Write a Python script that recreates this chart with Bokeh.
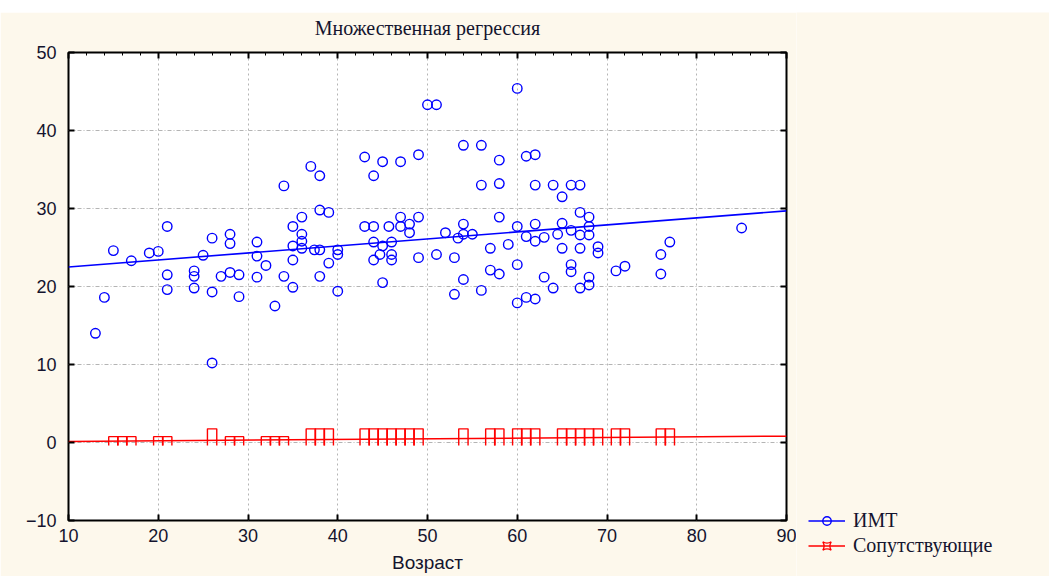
from bokeh.plotting import figure
from bokeh.models import Range1d, FixedTicker, LinearAxis, Legend, LegendItem, Div
from bokeh.layouts import column, row
from bokeh.embed import file_html
from bokeh.resources import INLINE

# ---------------- data ----------------
imt_age = [37, 34, 21, 36, 35, 36, 35, 36, 36, 26, 28, 28, 31, 15, 19, 20, 17, 25, 31, 32, 35,
           21, 24, 24, 27, 28, 29, 31, 34, 21, 24, 26, 29, 35, 14, 33, 13, 26,
           60, 50, 51, 54, 56, 43, 45, 47, 49, 58, 61, 62, 38, 44, 56, 58, 62, 38, 39,
           43, 44, 47, 49, 45.7, 47, 48, 48, 54, 58, 60, 62, 52, 54, 55, 37.4, 38, 40, 40,
           39, 44, 45, 46, 44.7, 46, 44, 46, 49, 51, 53, 53.4, 57, 59, 61, 62, 60, 38, 40,
           45, 57, 58, 54, 56, 53, 60, 61, 62,
           64, 66, 67, 65, 67, 68, 65, 66, 68, 68, 67, 63, 65, 67, 69, 69, 77, 76, 76, 85,
           66, 66, 63, 68, 71, 72, 64, 67, 68, 64.5]
imt_val = [35.4, 32.9, 27.7, 28.9, 27.7, 26.7, 25.2, 25.8, 24.9, 26.2, 26.7, 25.5, 25.7, 24.6,
           24.3, 24.5, 23.3, 24.0, 23.9, 22.7, 23.4,
           21.5, 22.0, 21.3, 21.3, 21.8, 21.5, 21.2, 21.3, 19.6, 19.8, 19.3, 18.7, 19.9, 18.6,
           17.5, 14.0, 10.2,
           45.4, 43.3, 43.3, 38.1, 38.1, 36.6, 36.0, 36.0, 36.9, 36.2, 36.7, 36.9, 34.2, 34.2,
           33.0, 33.2, 33.0, 29.8, 29.5,
           27.7, 27.7, 28.9, 28.9, 27.7, 27.7, 28.0, 26.9, 28.0, 28.9, 27.7, 28.0, 26.9, 26.7,
           26.7, 24.7, 24.7, 24.7, 24.1,
           23.0, 25.7, 25.2, 25.7, 24.1, 24.1, 23.4, 23.4, 23.7, 24.1, 23.7, 26.2, 24.9, 25.4,
           26.4, 25.8, 22.8, 21.3, 19.4,
           20.5, 22.1, 21.6, 20.9, 19.5, 19.0, 17.9, 18.6, 18.4,
           33.0, 33.0, 33.0, 31.5, 29.5, 28.9, 28.1, 27.2, 27.7, 26.6, 26.6, 26.3, 24.9, 24.9,
           25.1, 24.3, 25.7, 24.1, 21.6, 27.5,
           22.8, 21.9, 21.2, 21.2, 22.0, 22.6, 19.8, 19.8, 20.2, 26.7]

comorb_age = [15, 16, 17, 20, 21, 26, 28, 29, 32, 33, 34, 37, 38, 39, 43, 44, 45, 46, 47, 48, 49,
              54, 57, 58, 60, 61, 62, 65, 66, 67, 68, 69, 71, 72, 76, 77]
comorb_val = [0, 0, 0, 0, 0, 1, 0, 0, 0, 0, 0, 1, 1, 1, 1, 1, 1, 1, 1, 1, 1,
              1, 1, 1, 1, 1, 1, 1, 1, 1, 1, 1, 1, 1, 1, 1]

imt_fit = {"intercept": 21.6, "slope": 0.09}
comorb_fit = {"intercept": 0.05, "slope": 0.0085}

x_ticks = [10, 20, 30, 40, 50, 60, 70, 80, 90]
y_ticks = [-10, 0, 10, 20, 30, 40, 50]

title_text = "Множественная регрессия"
x_label = "Возраст"
legend_labels = ["ИМТ", "Сопутствующие"]

# ---------------- styles ----------------
CREAM = "#FDF8EC"
BLUE = "#0000FF"
RED = "#FF0000"
TEXT = "#14142E"
MAIN_W = 796
H = 564

p = figure(width=MAIN_W, height=H,
           x_range=Range1d(x_ticks[0], x_ticks[-1]),
           y_range=Range1d(y_ticks[0], y_ticks[-1]),
           output_backend="svg", toolbar_location=None,
           min_border_left=68, min_border_right=10,
           min_border_top=40, min_border_bottom=56,
           background_fill_color="white", border_fill_color=CREAM,
           outline_line_color="black", outline_line_width=2)
p.title.visible = False

# axes
for ax in (p.xaxis[0], p.yaxis[0]):
    ax.axis_line_alpha = 0
    ax.major_tick_in = 6
    ax.major_tick_out = 0
    ax.minor_tick_in = 0
    ax.minor_tick_out = 0
    ax.major_tick_line_color = "black"
    ax.major_tick_line_width = 2
    ax.major_label_text_font = "Liberation Sans"
    ax.major_label_text_font_size = "18px"
    ax.major_label_text_color = TEXT
p.xaxis[0].ticker = FixedTicker(ticks=x_ticks)
p.yaxis[0].ticker = FixedTicker(ticks=y_ticks)
p.xaxis[0].major_label_standoff = 8
p.yaxis[0].major_label_standoff = 12
p.xaxis[0].axis_label = x_label
p.xaxis[0].axis_label_text_font = "Liberation Sans"
p.xaxis[0].axis_label_text_font_size = "19px"
p.xaxis[0].axis_label_text_font_style = "normal"
p.xaxis[0].axis_label_text_color = TEXT
p.xaxis[0].axis_label_standoff = 7

# top axis: minor ticks inside, carries the chart title as its label
minor_x = list(range(x_ticks[0], x_ticks[-1] + 1, 2))
top = LinearAxis(ticker=FixedTicker(ticks=x_ticks, minor_ticks=minor_x),
                 axis_line_alpha=0, major_tick_in=6, major_tick_out=0,
                 minor_tick_in=3, minor_tick_out=0, major_tick_line_width=2,
                 major_label_text_alpha=0, major_label_text_font_size="1px",
                 major_label_standoff=0,
                 axis_label=title_text, axis_label_text_font="Liberation Serif",
                 axis_label_text_font_size="20px", axis_label_text_font_style="normal",
                 axis_label_text_color=TEXT, axis_label_standoff=14)
p.add_layout(top, "above")
right = LinearAxis(ticker=FixedTicker(ticks=y_ticks),
                   axis_line_alpha=0, major_tick_in=6, major_tick_out=0,
                   minor_tick_in=0, minor_tick_out=0, major_tick_line_width=2,
                   major_label_text_alpha=0, major_label_text_font_size="1px",
                   major_label_standoff=0)
p.add_layout(right, "right")

# grids
p.xgrid.ticker = FixedTicker(ticks=x_ticks)
p.ygrid.ticker = FixedTicker(ticks=y_ticks)
p.xgrid.grid_line_color = "#B4B4B4"
p.xgrid.grid_line_dash = "2 3"
p.ygrid.grid_line_color = "#B4B4B4"
p.ygrid.grid_line_dash = "4 2 1 2"

# blue series
fit_x = [x_ticks[0], x_ticks[-1]]
imt_style = dict(line_color=BLUE, line_width=1.6)
pt_style = dict(marker="circle", size=9.5, line_color=BLUE, line_width=1.4, fill_color=None)
red_style = dict(line_color=RED, line_width=1.5)
p.line(fit_x, [imt_fit["intercept"] + imt_fit["slope"] * x for x in fit_x], **imt_style)
p.scatter(imt_age, imt_val, **pt_style)

# red series
hw = 0.52
xs = [[a - hw, a - hw, a + hw, a + hw] for a in comorb_age]
ys = [[-0.4, v + 0.75, v + 0.75, -0.4] for v in comorb_val]
p.multi_line(xs, ys, line_color=RED, line_width=1.4)
p.line(fit_x, [comorb_fit["intercept"] + comorb_fit["slope"] * x for x in fit_x], **red_style)

# ---------------- legend panel ----------------
q = figure(width=1049 - MAIN_W, height=H, x_range=Range1d(0, 1), y_range=Range1d(0, 1),
           output_backend="svg", toolbar_location=None,
           x_axis_location=None, y_axis_location=None,
           min_border=0, background_fill_color=CREAM, border_fill_color=CREAM,
           outline_line_color=None)
q.grid.visible = False
off = [5, 6]  # keys drawn off-canvas, only their legend glyphs show
l1 = q.line(off, off, **imt_style)
s1 = q.scatter(off, off, **pt_style)
l2 = q.line(off, off, **red_style)
s2 = q.scatter(off, off, marker="square_pin", size=8, line_color=RED, line_width=1.3,
               fill_color=None)
legend = Legend(items=[LegendItem(label=legend_labels[0], renderers=[l1, s1]),
                       LegendItem(label=legend_labels[1], renderers=[l2, s2])],
                location=(808 - MAIN_W, 19), padding=0, margin=0, spacing=2,
                border_line_alpha=0, background_fill_alpha=0,
                glyph_width=37, glyph_height=21, label_height=21, label_standoff=8,
                label_text_font="Liberation Serif", label_text_font_size="20px",
                label_text_color=TEXT)
q.add_layout(legend, "center")

band = Div(text="", width=1049, height=12, margin=0,
           styles={"background-color": "white"})
layout = column(band, row(p, column(q, spacing=0), spacing=0), spacing=0)

open("out.html", "w").write(file_html(layout, INLINE))
